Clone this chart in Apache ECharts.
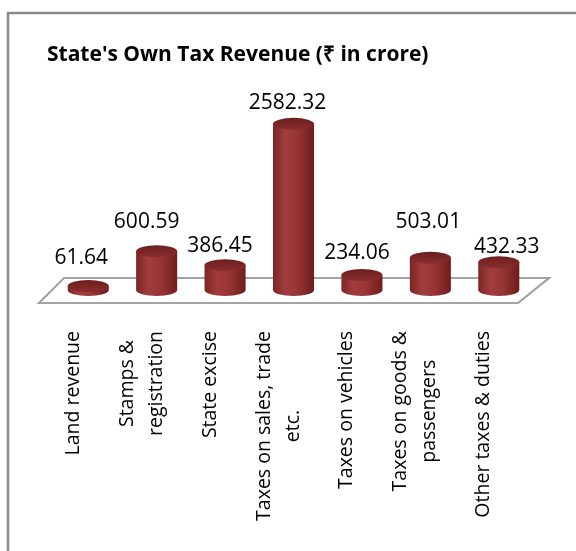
<!DOCTYPE html>
<html>
<head>
<meta charset="utf-8">
<title>State's Own Tax Revenue</title>
<script src="https://cdn.jsdelivr.net/npm/echarts@6.0.0/dist/echarts.min.js"></script>
<style>
  html, body { margin: 0; padding: 0; background: #fff; }
  #main { width: 576px; height: 551px; }
</style>
</head>
<body>
<div id="main"></div>
<script type="text/javascript">
var categories = [
  'Land revenue',
  'Stamps &\nregistration',
  'State excise',
  'Taxes on sales, trade\netc.',
  'Taxes on vehicles',
  'Taxes on goods &\npassengers',
  'Other taxes & duties'
];
var revenue = [61.64, 600.59, 386.45, 2582.32, 234.06, 503.01, 432.33];

// nudges for the value labels (px from the cylinder top), Excel placed them unevenly
var labelShift = [[-7, -28], [-10, -29], [-5, -19], [-6, -21], [-5, -22], [-2, -36], [8, -15]];

// the bars stand a bit back on the 3D floor
var depthX = 15, depthY = 13;

var bodyFill = {
  type: 'linear', x: 0, y: 0, x2: 1, y2: 0,
  colorStops: [
    { offset: 0, color: '#7c2424' },
    { offset: 0.3, color: '#a13d3d' },
    { offset: 0.6, color: '#973434' },
    { offset: 1, color: '#6e1d1d' }
  ]
};
var capFill = {
  type: 'linear', x: 0, y: 0, x2: 0, y2: 1,
  colorStops: [
    { offset: 0, color: '#6c1e1e' },
    { offset: 1, color: '#8a2d2d' }
  ]
};

function renderFloor(params, api) {
  var cs = params.coordSys;
  var y0 = api.coord([0, 0])[1];
  var x0 = cs.x, x1 = cs.x + cs.width;
  return {
    type: 'polygon',
    silent: true,
    shape: { points: [[x0, y0], [x0 + 25, y0 - 25], [x1 + 31, y0 - 25], [x1, y0]] },
    style: { fill: '#fff', stroke: '#a3a3a3', lineWidth: 2.2 }
  };
}

function renderCylinder(params, api) {
  var i = api.value(0);
  var base = api.coord([i, 0]);
  var top = api.coord([i, api.value(1)]);
  var rx = api.size([1, 0])[0] * 0.3;
  var ry = 6;
  var cx = base[0] + depthX;
  var by = base[1] - depthY;
  var ty = top[1] - depthY;
  var l = cx - rx, r = cx + rx;
  var body = 'M' + l + ' ' + ty + ' L' + l + ' ' + by +
    ' A' + rx + ' ' + ry + ' 0 0 0 ' + r + ' ' + by +
    ' L' + r + ' ' + ty + ' Z';
  var cap = 'M' + l + ' ' + ty +
    ' A' + rx + ' ' + ry + ' 0 1 1 ' + r + ' ' + ty +
    ' A' + rx + ' ' + ry + ' 0 1 1 ' + l + ' ' + ty + ' Z';
  var shift = labelShift[params.dataIndex];
  return {
    type: 'group',
    children: [
      { type: 'path', shape: { pathData: body }, style: { fill: bodyFill } },
      { type: 'path', shape: { pathData: cap }, style: { fill: capFill } },
      {
        type: 'text',
        style: {
          text: api.value(1).toFixed(2),
          x: cx + shift[0], y: ty + shift[1],
          align: 'center', verticalAlign: 'middle',
          fontFamily: '"Open Sans"', fontSize: 21, fill: '#000'
        }
      }
    ]
  };
}

var chartDom = document.getElementById('main');
var myChart = echarts.init(chartDom);
var option;

option = {
  animation: false,
  backgroundColor: '#fff',
  title: {
    text: "State's Own Tax Revenue (\u20B9 in crore)",
    left: 47,
    top: 45,
    padding: 0,
    textStyle: { fontFamily: '"Open Sans"', fontWeight: 'bold', fontSize: 21, color: '#000' }
  },
  graphic: [{
    type: 'rect',
    silent: true,
    shape: { x: 8, y: 13, width: 640, height: 640 },
    style: { fill: 'transparent', stroke: '#8a8a8a', lineWidth: 2.5 }
  }],
  grid: { left: 39, right: 58, top: 110, bottom: 248 },
  xAxis: {
    type: 'category',
    data: categories,
    axisLine: { show: false },
    axisTick: { show: false },
    axisLabel: {
      interval: 0,
      rotate: 90,
      margin: 28,
      formatter: function (v) {
        return v.split('\n').map(function (s) { return '{c|' + s + '}'; }).join('\n');
      },
      rich: {
        c: { align: 'center', fontFamily: '"Open Sans"', fontSize: 19.5, lineHeight: 29, color: '#000' }
      }
    }
  },
  yAxis: {
    type: 'value',
    min: 0,
    max: 3000,
    show: false,
    splitLine: { show: false }
  },
  series: [
    {
      type: 'custom',
      z: 1,
      renderItem: renderFloor,
      data: [[0, 0]]
    },
    {
      type: 'custom',
      z: 2,
      renderItem: renderCylinder,
      data: revenue.map(function (v, i) { return [i, v]; })
    }
  ]
};

option && myChart.setOption(option);
</script>
</body>
</html>
